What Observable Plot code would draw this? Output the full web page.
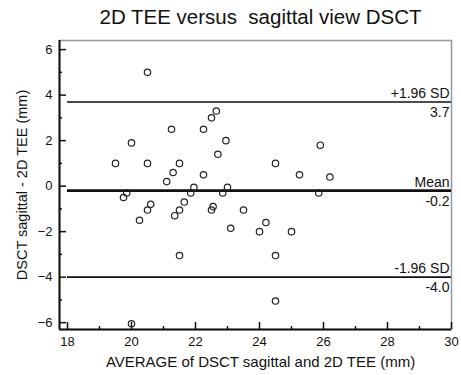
<!DOCTYPE html>
<html><head><meta charset="utf-8">
<script src="https://cdn.jsdelivr.net/npm/d3@7"></script>
<script src="https://cdn.jsdelivr.net/npm/@observablehq/plot@0.6"></script>
<style>
body{margin:0;background:#fff;font-family:"Liberation Sans",Arial,sans-serif;}
#title{height:36px;box-sizing:border-box;padding-top:7px;padding-left:60px;text-align:center;font-size:20.5px;line-height:20px;color:#111;white-space:pre;}
</style></head><body>
<div id="title">2D TEE versus  sagittal view DSCT</div>
<div id="chart"></div>
<script>
const titleText = "2D TEE versus  sagittal view DSCT";
const xLabel = "AVERAGE of DSCT sagittal and 2D TEE (mm)";
const yLabel = "DSCT sagittal - 2D TEE (mm)";

const avgX  = [20.5, 22.65, 22.5, 21.25, 22.25, 20.0, 22.95, 25.9, 22.7, 19.5, 20.5, 21.5, 24.5, 21.3, 22.25, 25.25, 26.2, 21.1, 21.95, 23.0, 21.85, 22.85, 19.85, 19.75, 25.85, 21.65, 20.6, 22.55, 22.5, 20.5, 21.5, 23.5, 21.35, 20.25, 24.2, 23.1, 24.0, 25.0, 21.5, 24.5, 24.5, 20.0];
const diffY = [5.0, 3.3, 3.0, 2.5, 2.5, 1.9, 2.0, 1.8, 1.4, 1.0, 1.0, 1.0, 1.0, 0.6, 0.5, 0.5, 0.4, 0.2, -0.05, -0.05, -0.3, -0.3, -0.3, -0.5, -0.3, -0.7, -0.8, -0.9, -1.05, -1.05, -1.05, -1.05, -1.3, -1.5, -1.6, -1.85, -2.0, -2.0, -3.05, -3.05, -5.05, -6.05];

const xDomain = [17.75, 30];
const yDomain = [-6.3, 6.4];
const xMajorTicks = [18, 20, 22, 24, 26, 28, 30];
const xMinorTicks = [19, 21, 23, 25, 27, 29];
const yMajorTicks = [-6, -4, -2, 0, 2, 4, 6];
const yMinorTicks = [-5, -3, -1, 1, 3, 5];

const limitValues = [3.7, -0.2, -4.0];
const limitNames  = ["+1.96 SD", "Mean", "-1.96 SD"];
const limitTexts  = ["3.7", "-0.2", "-4.0"];

const points = avgX.map((x, i) => ({x, y: diffY[i]}));
const limits = limitValues.map((v, i) => ({v, name: limitNames[i], text: limitTexts[i]}));
const lineStart = xMajorTicks[0], lineEnd = xMajorTicks[xMajorTicks.length - 1];

const chart = Plot.plot({
  width: 461, height: 339,
  marginTop: 4, marginBottom: 46, marginLeft: 59, marginRight: 10,
  style: {fontFamily: "'Liberation Sans', Arial, sans-serif", background: "#fff", color: "#111"},
  x: {domain: xDomain},
  y: {domain: yDomain},
  marks: [
    Plot.frame({stroke: "#999", strokeWidth: 1.5}),
    Plot.ruleY(limits, {y: "v", x1: lineStart, x2: lineEnd, stroke: "#111", strokeWidth: d => d.name === "Mean" ? 2.8 : 1.6}),
    Plot.text(limits, {y: "v", x: lineEnd, text: "name", textAnchor: "end", lineAnchor: "bottom", dx: -2, dy: -4, fontSize: 14, fill: "#111"}),
    Plot.text(limits, {y: "v", x: lineEnd, text: "text", textAnchor: "end", lineAnchor: "top", dx: -2, dy: 5, fontSize: 14, fill: "#111"}),
    Plot.dot(points, {x: "x", y: "y", r: 3.2, stroke: "#222", strokeWidth: 1.2, fill: "none"}),
    Plot.axisX({ticks: xMajorTicks, tickSize: -7, tickPadding: 14, label: null, fontSize: 13, strokeWidth: 1.5}),
    Plot.axisX({ticks: xMinorTicks, tickSize: -3, tickFormat: () => "", label: null, strokeWidth: 1.5}),
    Plot.axisY({ticks: yMajorTicks, tickSize: -7, tickPadding: 14, label: null, fontSize: 13, strokeWidth: 1.5}),
    Plot.axisY({ticks: yMinorTicks, tickSize: -3, tickFormat: () => "", label: null, strokeWidth: 1.5}),
    Plot.ruleX([xDomain[0]], {stroke: "#111", strokeWidth: 2}),
    Plot.ruleY([yDomain[0]], {stroke: "#111", strokeWidth: 2}),
    Plot.text([xLabel], {frameAnchor: "bottom", dy: 27, dx: 5, lineAnchor: "top", fontSize: 15, fill: "#111"}),
    Plot.text([yLabel], {frameAnchor: "left", rotate: -90, dx: -37, textAnchor: "middle", fontSize: 14.5, fill: "#111"})
  ]
});
document.getElementById("chart").appendChild(chart);
</script>
</body></html>
